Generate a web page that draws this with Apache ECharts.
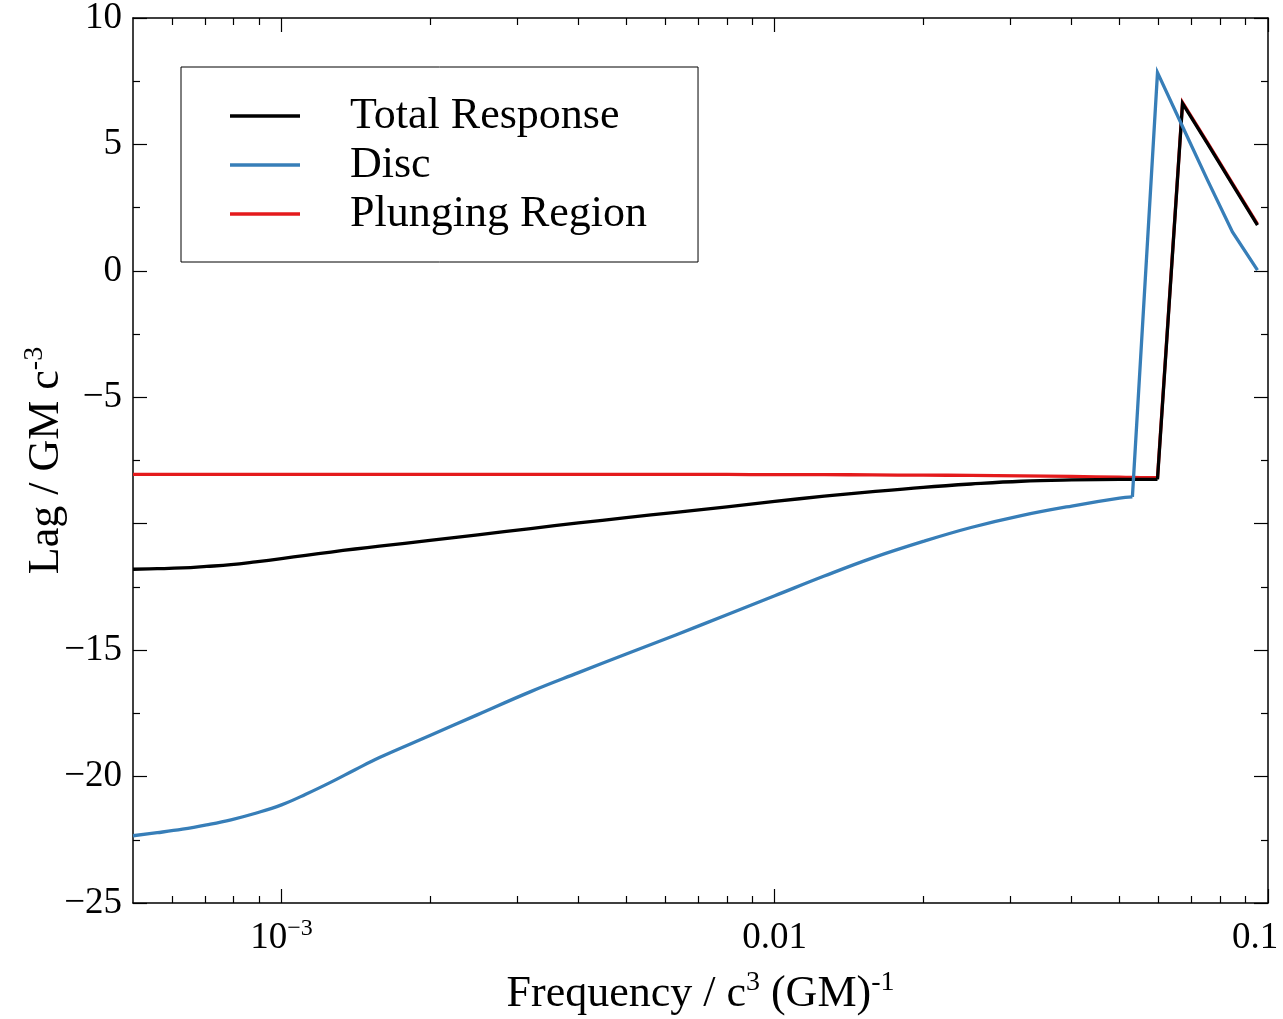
<!DOCTYPE html>
<html><head><meta charset="utf-8">
<script src="https://cdn.jsdelivr.net/npm/echarts@6/dist/echarts.min.js"></script>
<style>html,body{margin:0;padding:0;background:#fff}#c{width:1283px;height:1019px}</style>
</head><body><div id="c"></div>
<script>
// Frequency grid, c^3 (GM)^-1
const freq = [5e-4, 5.6e-4, 6.3e-4, 7.05e-4, 7.9e-4, 8.86e-4, 1e-3, 1.12e-3, 1.26e-3, 1.41e-3, 1.58e-3, 2e-3, 2.5e-3,
  3.2e-3, 4e-3, 5e-3, 6.3e-3, 8e-3, 0.01, 0.0126, 0.0158, 0.02, 0.025, 0.0316, 0.04, 0.05, 0.0531,
  0.0597, 0.0671, 0.0754, 0.0847, 0.0952];
// Lag, GM c^-3
const totalResponse = [-11.80, -11.78, -11.75, -11.69, -11.62, -11.51, -11.38, -11.25, -11.12, -11.00, -10.89, -10.66, -10.44,
  -10.19, -9.97, -9.76, -9.55, -9.33, -9.12, -8.91, -8.73, -8.56, -8.43, -8.32, -8.27, -8.25, -8.25,
  -8.25, 6.62, 5.03, 3.42, 1.81];
const disc = [-22.34, -22.22, -22.08, -21.91, -21.71, -21.45, -21.12, -20.70, -20.22, -19.73, -19.25, -18.38, -17.55,
  -16.64, -15.89, -15.15, -14.40, -13.60, -12.85, -12.07, -11.35, -10.70, -10.15, -9.68, -9.30, -8.99, -8.94,
  7.84, 5.71, 3.59, 1.54, 0.03];
const plungingRegion = [-8.05, -8.05, -8.05, -8.05, -8.05, -8.05, -8.05, -8.05, -8.05, -8.05, -8.05, -8.05, -8.05,
  -8.05, -8.05, -8.05, -8.05, -8.05, -8.06, -8.06, -8.07, -8.08, -8.09, -8.11, -8.13, -8.16, -8.17,
  -8.18, 6.66, 5.07, 3.46, 1.85];

const seriesNames = ['Total Response', 'Disc', 'Plunging Region'];
const seriesColors = ['#000000', '#377eb8', '#e41a1c'];

const xMajorTicks = [0.001, 0.01, 0.1];
const xMinorTicks = [6e-4, 7e-4, 8e-4, 9e-4,
  2e-3, 3e-3, 4e-3, 5e-3, 6e-3, 7e-3, 8e-3, 9e-3,
  0.02, 0.03, 0.04, 0.05, 0.06, 0.07, 0.08, 0.09];
const xMin = 5e-4, xMax = 0.1;
const yMin = -25, yMax = 10, yStep = 5;
const yHiddenLabel = -10;

const FONT = '"Liberation Serif", "Times New Roman", Times, serif';

function xAxisCfg(position, ticks, len, showLine, showLabel) {
  return {
    type: 'log', logBase: 10, min: xMin, max: xMax, position: position, gridIndex: 0,
    axisLine: { show: showLine, onZero: false, lineStyle: { color: '#000', width: 1.5 } },
    axisTick: { show: true, inside: true, length: len, customValues: ticks, lineStyle: { color: '#000', width: 1.2 } },
    minorTick: { show: false },
    splitLine: { show: false },
    axisLabel: showLabel ? {
      show: true, customValues: ticks, margin: 14, color: '#000', fontFamily: FONT, fontSize: 37,
      hideOverlap: false,
      formatter: function (v) {
        const e = Math.round(Math.log10(v));
        if (e === -3) return '{b|10}{s|\u22123}';
        if (e === -2) return '{b|0.01}';
        return '{r|0.1}';
      },
      rich: {
        b: { fontSize: 37, fontFamily: FONT, color: '#000', lineHeight: 42 },
        r: { fontSize: 37, fontFamily: FONT, color: '#000', lineHeight: 42, padding: [0, 26, 0, 0] },
        s: { fontSize: 24, fontFamily: FONT, color: '#000', verticalAlign: 'top', lineHeight: 26 }
      }
    } : { show: false }
  };
}

function yAxisCfg(position, showLabel) {
  const cfg = {
    type: 'value', min: yMin, max: yMax, interval: yStep, position: position, gridIndex: 0,
    axisLine: { show: true, onZero: false, lineStyle: { color: '#000', width: 1.5 } },
    axisTick: { show: true, inside: true, length: 14, lineStyle: { color: '#000', width: 1.2 } },
    minorTick: { show: true, splitNumber: 2, length: 7, lineStyle: { color: '#000', width: 1.2 } },
    splitLine: { show: false },
    axisLabel: showLabel ? {
      show: true, margin: 11, color: '#000', fontFamily: FONT, fontSize: 37, hideOverlap: false,
      formatter: function (v) { return v === yHiddenLabel ? '' : String(v).replace('-', '\u2212'); }
    } : { show: false }
  };
  if (showLabel) {
    cfg.name = '{a|Lag / GM c}{s|-3}';
    cfg.nameLocation = 'middle';
    cfg.nameRotate = 90;
    cfg.nameGap = 62;
    cfg.nameMoveOverlap = false;
    cfg.nameTextStyle = {
      rich: {
        a: { fontSize: 44, fontFamily: FONT, color: '#000', lineHeight: 50 },
        s: { fontSize: 28, fontFamily: FONT, color: '#000', verticalAlign: 'top', lineHeight: 30 }
      }
    };
  }
  return cfg;
}

const xBottom = xAxisCfg('bottom', xMajorTicks, 14, true, true);
xBottom.name = '{a|Frequency / c}{s|3}{a| (GM)}{s|-1}';
xBottom.nameLocation = 'middle';
xBottom.nameGap = 66;
xBottom.nameMoveOverlap = false;
xBottom.nameTextStyle = {
  rich: {
    a: { fontSize: 44, fontFamily: FONT, color: '#000', lineHeight: 50 },
    s: { fontSize: 28, fontFamily: FONT, color: '#000', verticalAlign: 'top', lineHeight: 30 }
  }
};

const valueSets = [totalResponse, disc, plungingRegion];
const zOrder = [3, 4, 2];

// split each curve into its smooth part and the sharp jump part (at the big rise)
const series = [];
seriesNames.forEach(function (name, k) {
  const vals = valueSets[k];
  let cut = vals.length - 1;
  for (let i = 0; i < vals.length - 1; i++) { if (vals[i + 1] - vals[i] > 5) { cut = i; break; } }
  const pts = freq.map(function (f, i) { return [f, vals[i]]; });
  const common = {
    name: name, type: 'line', xAxisIndex: 0, yAxisIndex: 0,
    showSymbol: false, symbol: 'none', z: zOrder[k], color: seriesColors[k],
    lineStyle: { color: seriesColors[k], width: 3.3, join: 'miter' }
  };
  series.push(Object.assign({}, common, { data: pts.slice(0, cut + 1), smooth: 0.4 }));
  series.push(Object.assign({}, common, { data: pts.slice(cut), smooth: false }));
});

const chart = echarts.init(document.getElementById('c'), null, { renderer: 'canvas' });
chart.setOption({
  animation: false,
  backgroundColor: '#fff',
  textStyle: { fontFamily: FONT, color: '#000' },
  grid: { left: 133, right: 15, top: 18, bottom: 116, containLabel: false, outerBoundsMode: 'none' },
  xAxis: [
    xBottom,
    xAxisCfg('bottom', xMinorTicks, 7, false, false),
    xAxisCfg('top', xMajorTicks, 14, true, false),
    xAxisCfg('top', xMinorTicks, 7, false, false)
  ],
  yAxis: [yAxisCfg('left', true), yAxisCfg('right', false)],
  legend: {
    orient: 'vertical', left: 181, top: 67,
    padding: [27, 51, 26, 49], itemGap: 5,
    itemWidth: 70, itemHeight: 3.5, icon: 'rect',
    borderColor: '#000', borderWidth: 1, backgroundColor: '#fff',
    data: seriesNames,
    formatter: function (n) { return '{g|}{t|' + n + '}'; },
    textStyle: {
      rich: {
        g: { width: 45 },
        t: { fontSize: 44, lineHeight: 44, fontFamily: FONT, color: '#000' }
      }
    }
  },
  series: series
});
</script>
</body></html>
